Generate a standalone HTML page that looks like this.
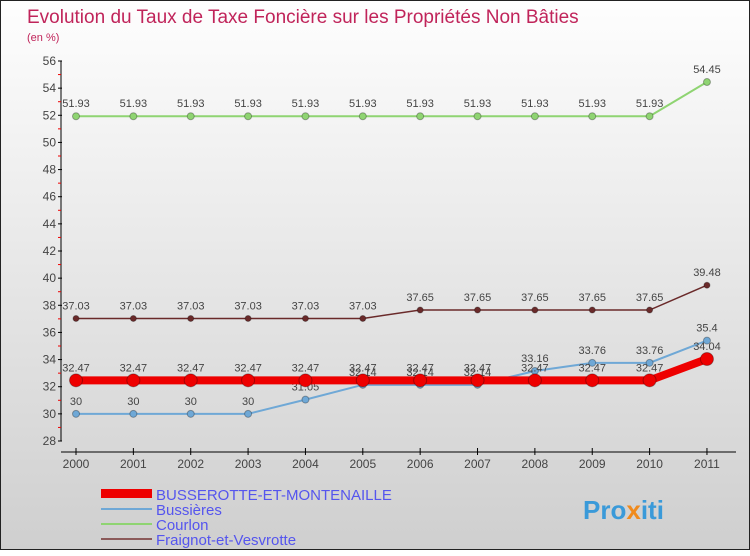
<!DOCTYPE html>
<html><head><meta charset="utf-8"><style>
body{margin:0}
#c{width:750px;height:550px;position:relative;background:linear-gradient(#fefefe,#cfcfcf);border:1px solid #222;box-sizing:border-box;font-family:"Liberation Sans",sans-serif}
</style></head><body>
<div id="c">
<svg id="s" width="750" height="550" font-family="Liberation Sans, sans-serif">
<text x="26" y="22" font-size="19" fill="#c0245a">Evolution du Taux de Taxe Foncière sur les Propriétés Non Bâties</text>
<text x="26" y="40" font-size="11" fill="#c0245a">(en %)</text>
<g id="ax"></g><g id="ser"></g>
<g font-size="15" fill="#5555ee">
<rect x="100" y="488" width="51" height="9" fill="#e00"/>
<text x="155" y="499">BUSSEROTTE-ET-MONTENAILLE</text>
<rect x="100" y="507" width="51" height="2" fill="#6fa8d6"/>
<text x="155" y="514">Bussières</text>
<rect x="100" y="522" width="51" height="2" fill="#8fd472"/>
<text x="155" y="529">Courlon</text>
<rect x="100" y="537" width="51" height="2" fill="#8b5a5a"/>
<text x="155" y="544">Fraignot-et-Vesvrotte</text>
</g>
<text x="582" y="518" font-size="26" font-weight="bold" fill="#3a9ad9">Pro<tspan fill="#f08a1c">x</tspan>iti</text>
</svg></div>
<script>
const years=[2000,2001,2002,2003,2004,2005,2006,2007,2008,2009,2010,2011];
const yTicks=[28,30,32,34,36,38,40,42,44,46,48,50,52,54,56];
const busserotte=[32.47,32.47,32.47,32.47,32.47,32.47,32.47,32.47,32.47,32.47,32.47,34.04];
const bussieres=[30,30,30,30,31.05,32.14,32.14,32.14,33.16,33.76,33.76,35.4];
const courlon=[51.93,51.93,51.93,51.93,51.93,51.93,51.93,51.93,51.93,51.93,51.93,54.45];
const fraignot=[37.03,37.03,37.03,37.03,37.03,37.03,37.65,37.65,37.65,37.65,37.65,39.48];
const NS="http://www.w3.org/2000/svg";
const X=i=>75+i*57.36, Y=v=>440-(v-28)*(380/28);
function mk(t,a,p){const e=document.createElementNS(NS,t);for(const k in a)e.setAttribute(k,a[k]);p.appendChild(e);return e;}
const ax=document.getElementById('ax'),ser=document.getElementById('ser');
let l=mk('line',{x1:60,y1:Y(56),x2:60,y2:440,stroke:'#000'},ax);


l=mk('line',{x1:60,y1:451,x2:735,y2:451,stroke:'#000'},ax);


yTicks.forEach((v,i)=>{
 mk('line',{x1:57,x2:61,y1:Y(v),y2:Y(v),stroke:'#000'},ax);
 if(i<yTicks.length-1)mk('line',{x1:57,x2:60,y1:Y(v+1),y2:Y(v+1),stroke:'#e00'},ax);
 const t=mk('text',{x:55,y:Y(v)+4,'font-size':12,'text-anchor':'end',fill:'#444'},ax);t.textContent=v;
 
 
});
years.forEach((y,i)=>{
 mk('line',{x1:X(i),x2:X(i),y1:447,y2:454,stroke:'#000'},ax);
 const t=mk('text',{x:X(i),y:467,'font-size':12,'text-anchor':'middle',fill:'#444'},ax);t.textContent=y;
 
 
});
function series(d,col,w,r,name){
 const g=mk('g',{},ser);
 
 
 mk('polyline',{points:d.map((v,i)=>X(i)+','+Y(v)).join(' '),fill:'none',stroke:col,'stroke-width':w},g);
 d.forEach((v,i)=>{
  const c=mk('circle',{cx:X(i),cy:Y(v),r:r,fill:col,stroke:'rgba(0,0,0,0.3)'},g);
  
  
  const t=mk('text',{x:X(i),y:Y(v)-9,'font-size':11,'text-anchor':'middle',fill:'#444'},g);t.textContent=v;
  
  
 });
}
series(courlon,'#8fd472',2,3.5,'courlon');
series(fraignot,'#6a2a2a',1.5,3,'fraignot');
series(bussieres,'#6fa8d6',2,3.5,'bussieres');
series(busserotte,'#ee0000',8,6.5,'busserotte');
</script>
</body></html>
